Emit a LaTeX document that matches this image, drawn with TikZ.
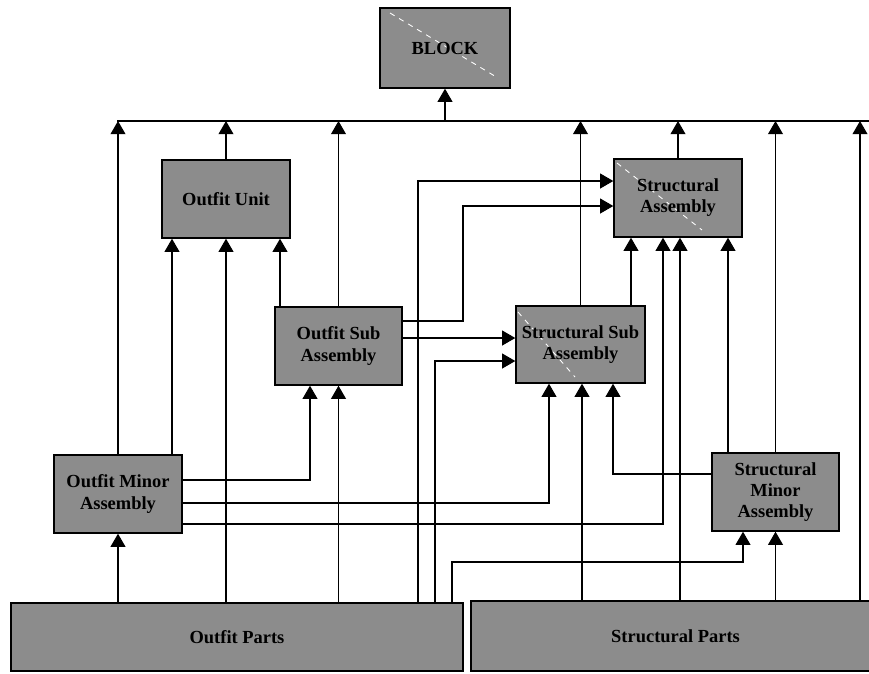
\documentclass[tikz,border=0pt]{standalone}
\usepackage{fontspec}
\setmainfont{Liberation Serif}
\usetikzlibrary{arrows.meta}

\tikzset{
  box/.style={draw, line width=0.8pt, fill=black!45, align=center,
    font=\fontsize{10.5}{12}\selectfont\bfseries, inner sep=0pt},
  link/.style={line width=0.6pt},
  arr/.style={link, -{Triangle[width=8.5pt,length=7.5pt]}},
  diag/.style={white!70, dashed, line width=0.5pt}
}

\begin{document}
\begin{tikzpicture}[x=0.2mm, y=-0.2mm]

\useasboundingbox (0,0) rectangle (869,673);
\clip (0,0) rectangle (869,673);

% Block at the top
\node[box, minimum width=26mm, minimum height=16mm,
  path picture={\draw[diag] ([shift={(2mm,-1mm)}]path picture bounding box.north west)
    -- ([shift={(-2.4mm,2mm)}]path picture bounding box.south east);}]
  (block) at (445,48) {BLOCK};

% Outfit side
\node[box, minimum width=25.6mm, minimum height=15.6mm] (ounit) at (226,199) {Outfit Unit};
\node[box, minimum width=25.4mm, minimum height=15.6mm] (osub) at (338.5,346) {Outfit Sub\\Assembly};
\node[box, minimum width=25.6mm, minimum height=15.6mm] (omin) at (118,494) {Outfit Minor\\Assembly};
\node[box, minimum width=90.4mm, minimum height=13.6mm] (oparts) at (237,637) {Outfit Parts};

% Structural side
\node[box, minimum width=25.6mm, minimum height=15.6mm,
  path picture={\draw[diag] ([shift={(0.6mm,-0.8mm)}]path picture bounding box.north west)
    -- ([shift={(-8mm,1.4mm)}]path picture bounding box.south east);}]
  (sasm) at (678,198) {Structural\\Assembly};
\node[box, minimum width=25.8mm, minimum height=15.4mm,
  path picture={\draw[diag] ([shift={(0.4mm,-1.2mm)}]path picture bounding box.north west)
    -- ([shift={(-14mm,1.2mm)}]path picture bounding box.south east);}]
  (ssub) at (580.5,344.5) {Structural Sub\\Assembly};
\node[box, minimum width=25.4mm, minimum height=15.6mm] (smin) at (775.5,492) {Structural\\Minor\\Assembly};
\node[box, minimum width=81.8mm, minimum height=14mm] (sparts) at (675.5,636) {Structural Parts};

% Common line under the block
\coordinate (busl) at (117,121);
\coordinate (busr) at (869,121);
\draw[link, line width=0.9pt] (busl) -- (busr);
\draw[arr] (block.south |- busl) -- (block.south);

% Up into the common line
\draw[arr] (omin.north) -- (omin.north |- busl);
\draw[arr] (ounit.north) -- (ounit.north |- busl);
\draw[arr] (osub.north) -- (osub.north |- busl);
\draw[arr] (ssub.north) -- (ssub.north |- busl);
\draw[arr] (sasm.north) -- (sasm.north |- busl);
\draw[arr] (smin.north) -- (smin.north |- busl);
\draw[arr] (sparts.north -| 860,0) -- (busl -| 860,0);

% Outfit Unit inputs
\draw[arr] (omin.north -| 172,0) -- (ounit.south -| 172,0);
\draw[arr] (oparts.north -| ounit.south) -- (ounit.south);
\draw[arr] (osub.north -| 280,0) -- (ounit.south -| 280,0);

% Outfit Sub Assembly inputs
\draw[arr] (omin.east |- 0,480) -| (osub.south -| 310,0);
\draw[arr] (oparts.north -| osub.south) -- (osub.south);

% Outfit Minor Assembly input
\draw[arr] (oparts.north -| omin.south) -- (omin.south);

% Structural Assembly inputs
\draw[arr] (oparts.north -| 418,0) |- (sasm.west |- 0,181);
\draw[arr] (osub.east |- 0,321) -| (463,206) -- (sasm.west |- 0,206);
\draw[arr] (ssub.north -| 631,0) -- (sasm.south -| 631,0);
\draw[arr] (omin.east |- 0,524) -| (sasm.south -| 663,0);
\draw[arr] (sparts.north -| 680,0) -- (sasm.south -| 680,0);
\draw[arr] (smin.north -| 728,0) -- (sasm.south -| 728,0);

% Structural Sub Assembly inputs
\draw[arr] (osub.east |- 0,338) -- (ssub.west |- 0,338);
\draw[arr] (oparts.north -| 435,0) |- (ssub.west |- 0,361);
\draw[arr] (omin.east |- 0,503) -| (ssub.south -| 549,0);
\draw[arr] (sparts.north -| 582,0) -- (ssub.south -| 582,0);
\draw[arr] (smin.west |- 0,474) -| (ssub.south -| 613,0);

% Structural Minor Assembly inputs
\draw[arr] (oparts.north -| 452,0) |- (743,562) -- (smin.south -| 743,0);
\draw[arr] (sparts.north -| smin.south) -- (smin.south);

\end{tikzpicture}
\end{document}
